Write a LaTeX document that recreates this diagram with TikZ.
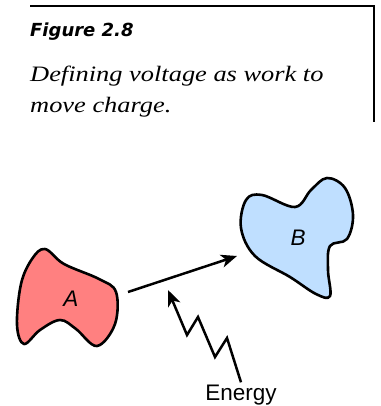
\documentclass[tikz,border=0pt]{standalone}
\usepackage{fontspec}
\setmainfont{Liberation Serif}
\setsansfont{Liberation Sans}
\newfontfamily\figfont{DejaVu Sans}
\newfontfamily\capfont[FakeStretch=1.2]{Liberation Serif Italic}
\usetikzlibrary{arrows.meta}
\definecolor{blobred}{RGB}{255,128,128}
\definecolor{blobblue}{RGB}{191,223,255}
\tikzset{
  blob/.style={line width=2.6pt, line join=round},
  push/.style={line width=2.5pt, -{Stealth[length=16pt,width=13pt,inset=4.5pt]}},
  lbl/.style={font=\sffamily\itshape\fontsize{22.5}{26}\selectfont, inner sep=2pt},
}
\begin{document}
\begin{tikzpicture}[x=1pt, y=-1pt]
\useasboundingbox (0,0) rectangle (380,406);
% caption box
\draw[line width=2.4pt] (30,6) -- (374,6) -- (374,122);
\node[anchor=base west, inner sep=0pt, font=\figfont\bfseries\itshape\fontsize{18}{21}\selectfont] (fig) at (30,37) {Figure 2.8};
\node[anchor=base west, inner sep=0pt, font=\capfont\fontsize{22}{25}\selectfont] (cap1) at (30,82) {Defining voltage as work to};
\node[anchor=base west, inner sep=0pt, font=\capfont\fontsize{22}{25}\selectfont] (cap2) at (30,113) {move charge.};

% the two charges
\draw[blob, fill=blobred] plot[smooth cycle, tension=0.6] coordinates {
  (45,249) (64,264) (99,279) (116,292) (115,324) (97,346) (76,329)
  (60,320) (40,330) (24,344) (17,325) (21,284) (32,259)};
\draw[blob, fill=blobblue] plot[smooth cycle, tension=0.6] coordinates {
  (246,200) (262,195) (295,207) (311,190) (327,178) (345,188) (353,215)
  (347,239) (330,246) (328,270) (330,296) (316,294) (290,277) (255,256)
  (241,228)};
\node[lbl] (A) at (71,299) {A};
\node[lbl] (B) at (298,238) {B};

% work done moving the charge
\coordinate (start) at (128,292);
\coordinate (end) at (237,256);
\draw[push] (start) -- (end);

% energy in
\node[font=\sffamily\fontsize{22.5}{26}\selectfont, anchor=base, inner sep=2pt] (energy) at (241,400) {Energy};
\coordinate (hit) at (168,290);
\draw[push, line join=miter] (energy.north) -- (227,338) -- (215,357) -- (198,317) -- (187,335) -- (hit);
\end{tikzpicture}
\end{document}
